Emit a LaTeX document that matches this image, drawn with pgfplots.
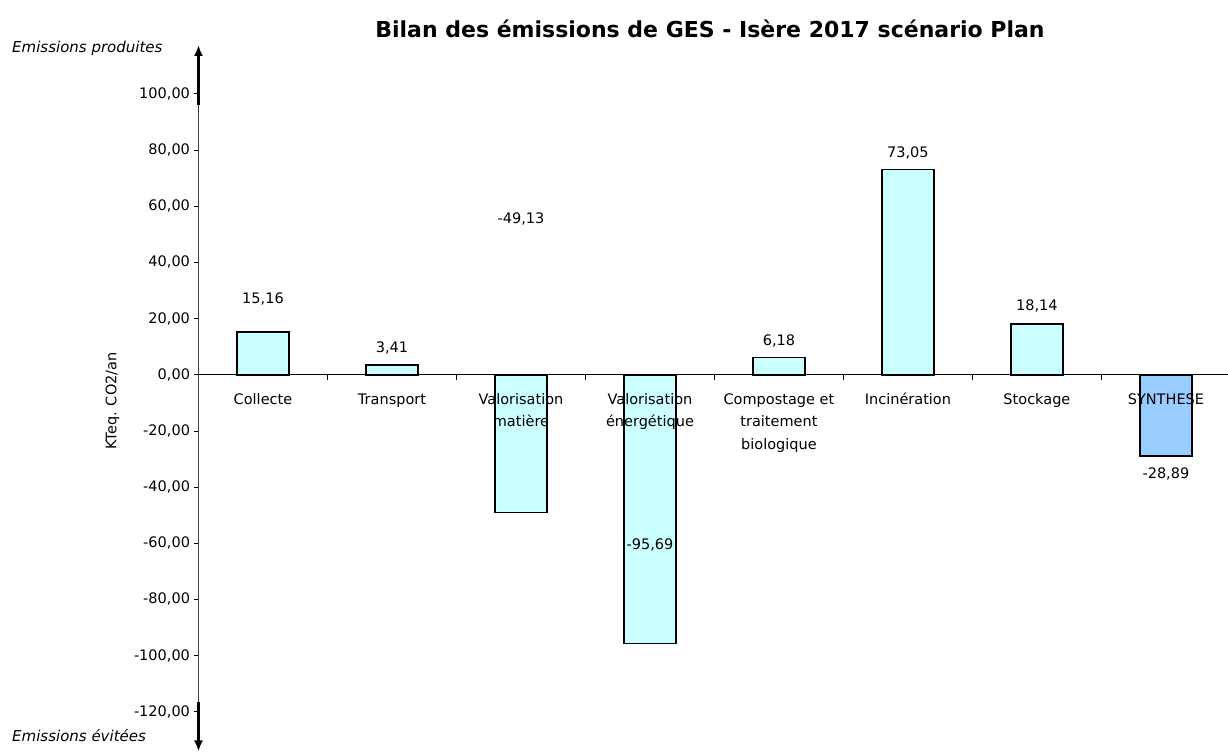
\documentclass[border=0pt]{standalone}
\usepackage{pgfplots}
\pgfplotsset{compat=1.18}
\usepackage{fontspec}
\setmainfont{DejaVu Sans}
\usetikzlibrary{arrows.meta}
\definecolor{barfill}{HTML}{CCFFFF}
\definecolor{synfill}{HTML}{99CCFF}
\newcommand{\lbl}{\fontsize{14.5bp}{22.6bp}\selectfont}
\begin{document}
\begin{tikzpicture}[x=1bp,y=1bp]
\useasboundingbox (0,0) rectangle (1228,753);
\begin{axis}[
  at={(198.5bp,41.2bp)}, anchor=south west,
  scale only axis, width=1032bp, height=617.9bp,
  xmin=-0.5, xmax=7.5, ymin=-120, ymax=100,
  axis y line*=left, axis x line*=middle,
  hide obscured x ticks=false, hide obscured y ticks=false,
  clip=false, axis on top,
  tick align=outside,
  major tick length=5bp,
  xtick={0.5,1.5,...,6.5}, xticklabels={},
  extra x ticks={0,1,2,3,4,5,6,7},
  extra x tick labels={Collecte, {\vphantom{l}Transport}, {Valorisation\\matière}, {Valorisation\\énergétique}, {Compostage et\\traitement\\biologique}, Incinération, Stockage, SYNTHESE},
  extra x tick style={major tick length=0pt},
  xticklabel style={align=center, font=\lbl, anchor=north, yshift=-15bp},
  ytick={-120,-100,...,100},
  yticklabel style={font=\lbl},
  /pgf/number format/assume math mode=true,
  yticklabel={\pgfmathprintnumber[fixed, fixed zerofill, precision=2, use comma, 1000 sep={}]{\tick}},
  x axis line style={draw=black, line width=1bp},
  y axis line style={draw=black!75, line width=1bp},
  tick style={draw=black, line width=0.8bp},
]
\addplot[ybar, bar width=52bp, bar shift=0pt, fill=barfill, draw=black, line width=1.5bp]
  coordinates {(0,15.16) (1,3.41) (2,-49.13) (3,-95.69) (4,6.18) (5,73.05) (6,18.14)};
\addplot[ybar, bar width=52bp, bar shift=0pt, fill=synfill, draw=black, line width=1.5bp]
  coordinates {(7,-28.89)};
\node[font=\lbl] at (axis cs:0,27.1) {15,16};
\node[font=\lbl] at (axis cs:1,9.5) {3,41};
\node[font=\lbl] at (axis cs:2,55.4) {-49,13};
\node[font=\lbl] at (axis cs:3,-60.7) {-95,69};
\node[font=\lbl] at (axis cs:4,12.2) {6,18};
\node[font=\lbl] at (axis cs:5,79.0) {73,05};
\node[font=\lbl] at (axis cs:6,24.4) {18,14};
\node[font=\lbl] at (axis cs:7,-35.3) {-28,89};
\end{axis}
\node[anchor=base, font=\bfseries\fontsize{22bp}{26bp}\selectfont] at (710,715) {Bilan des émissions de GES - Isère 2017 scénario Plan};
\node[rotate=90, font=\lbl] at (112.5,352) {KTeq. CO2/an};
\node[anchor=base west, inner sep=0pt, font=\itshape\fontsize{15bp}{18bp}\selectfont] at (12,700) {Emissions produites};
\node[anchor=base west, inner sep=0pt, font=\itshape\fontsize{15bp}{18bp}\selectfont] at (12,11.3) {Emissions évitées};
\draw[line width=2.5bp, -{Latex[length=11bp,width=9bp]}] (198.5,648) -- (198.5,708);
\draw[line width=2.5bp, -{Latex[length=11bp,width=9bp]}] (198.5,51.3) -- (198.5,1.5);
\end{tikzpicture}
\end{document}
